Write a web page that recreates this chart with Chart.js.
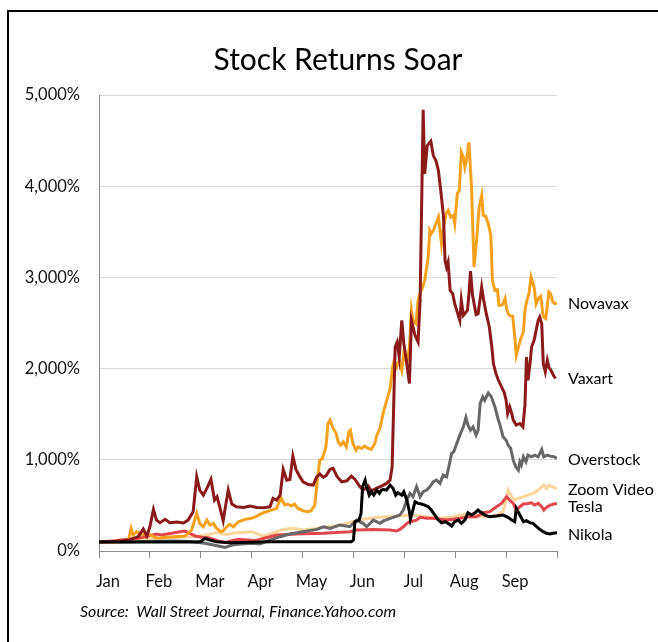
<!DOCTYPE html>
<html>
<head>
<meta charset="utf-8">
<script src="https://cdn.jsdelivr.net/npm/chart.js@4/dist/chart.umd.min.js"></script>
<style>
  html, body { margin: 0; padding: 0; background: #fff; overflow: hidden; }
  #frame { position: absolute; left: 7px; top: 10px; width: 800px; height: 800px; border: 2px solid #000; }
  #chart { position: absolute; left: 0; top: 0; }
</style>
</head>
<body>
<div id="frame"></div>
<canvas id="chart" width="658" height="642"></canvas>
<script>
// Stock returns, Jan-Sep (x = months since Jan 1, y = % of starting price)
const monthLabels = ['Jan', 'Feb', 'Mar', 'Apr', 'May', 'Jun', 'Jul', 'Aug', 'Sep'];
const yTicks = [0, 1000, 2000, 3000, 4000, 5000];

const novavax = [[0,100],[0.3,100],[0.58,120],[0.63,248],[0.67,175],[0.74,212],[0.84,175],[0.97,186],[1.07,157],[1.17,139],[1.30,150],[1.49,157],[1.69,164],[1.82,230],[1.92,413],[1.98,303],[2.05,266],[2.12,339],[2.18,285],[2.25,303],[2.31,248],[2.40,212],[2.44,223],[2.51,266],[2.57,292],[2.64,266],[2.74,321],[2.87,347],[3.00,358],[3.10,383],[3.23,420],[3.36,442],[3.49,467],[3.54,540],[3.58,577],[3.65,504],[3.71,515],[3.78,493],[3.84,515],[3.91,467],[4.01,442],[4.11,431],[4.17,442],[4.24,504],[4.29,777],[4.34,996],[4.39,1015],[4.46,1142],[4.50,1398],[4.54,1434],[4.59,1361],[4.66,1289],[4.70,1197],[4.75,1161],[4.80,1197],[4.86,1142],[4.91,1306],[4.94,1325],[4.99,1179],[5.05,1106],[5.09,1142],[5.16,1125],[5.22,1150],[5.29,1125],[5.35,1113],[5.42,1179],[5.46,1270],[5.52,1343],[5.59,1525],[5.65,1640],[5.72,1780],[5.77,2018],[5.80,2091],[5.85,2018],[5.90,2091],[5.95,1982],[5.99,2165],[6.05,2055],[6.10,2237],[6.14,2639],[6.17,2529],[6.23,2493],[6.27,2748],[6.31,2822],[6.36,2894],[6.40,2967],[6.47,3223],[6.50,3515],[6.53,3479],[6.57,3515],[6.62,3588],[6.67,3661],[6.70,3515],[6.73,3369],[6.77,3551],[6.82,3698],[6.86,3734],[6.91,3661],[6.96,3679],[6.99,3588],[7.04,3917],[7.08,3953],[7.12,4373],[7.16,4318],[7.19,4208],[7.22,4281],[7.27,4482],[7.32,3990],[7.37,3113],[7.42,3405],[7.47,3770],[7.52,3898],[7.55,3679],[7.60,3668],[7.65,3588],[7.70,3460],[7.73,2967],[7.78,2858],[7.83,2865],[7.86,2694],[7.91,2694],[7.94,2712],[7.98,2767],[8.01,2657],[8.04,2603],[8.07,2581],[8.13,2574],[8.17,2347],[8.20,2146],[8.26,2274],[8.30,2347],[8.34,2402],[8.37,2639],[8.41,2748],[8.45,2822],[8.49,3004],[8.55,2894],[8.59,2712],[8.63,2767],[8.68,2792],[8.73,2566],[8.78,2548],[8.84,2840],[8.87,2822],[8.92,2730],[8.96,2712],[9.00,2719]];

const vaxart = [[0,100],[0.3,105],[0.58,120],[0.77,157],[0.87,241],[0.94,164],[1.0,266],[1.07,456],[1.13,339],[1.2,310],[1.30,347],[1.39,310],[1.53,318],[1.66,307],[1.75,339],[1.85,431],[1.92,814],[1.98,668],[2.05,613],[2.12,686],[2.2,785],[2.27,558],[2.32,595],[2.38,467],[2.44,332],[2.49,504],[2.54,668],[2.61,515],[2.70,485],[2.84,478],[2.97,493],[3.10,478],[3.23,475],[3.36,485],[3.42,577],[3.49,558],[3.56,613],[3.62,895],[3.69,777],[3.75,785],[3.81,1040],[3.87,895],[3.94,821],[4.01,759],[4.11,730],[4.21,723],[4.28,814],[4.34,843],[4.41,807],[4.47,832],[4.54,895],[4.60,906],[4.68,814],[4.77,759],[4.87,770],[4.96,821],[5.03,785],[5.13,704],[5.19,668],[5.29,712],[5.35,660],[5.46,690],[5.55,712],[5.65,741],[5.72,777],[5.76,923],[5.82,2237],[5.86,2292],[5.90,2128],[5.95,2529],[5.99,2274],[6.03,2128],[6.10,1836],[6.14,2529],[6.21,2365],[6.27,2292],[6.31,2748],[6.37,4837],[6.40,4136],[6.45,4446],[6.52,4493],[6.57,4336],[6.62,4281],[6.67,4172],[6.70,4026],[6.73,3880],[6.77,3661],[6.80,3186],[6.83,3113],[6.86,3168],[6.90,2858],[6.95,2822],[6.99,2712],[7.03,2639],[7.09,2529],[7.12,2748],[7.16,2584],[7.24,2639],[7.27,2822],[7.30,3069],[7.34,2803],[7.41,2592],[7.45,2602],[7.49,2767],[7.52,2894],[7.56,2748],[7.61,2602],[7.67,2456],[7.72,2237],[7.75,2055],[7.80,1946],[7.85,1872],[7.91,1799],[7.96,1744],[8.00,1653],[8.03,1508],[8.07,1580],[8.11,1508],[8.14,1435],[8.20,1380],[8.27,1398],[8.33,1361],[8.37,1599],[8.40,2128],[8.43,1872],[8.47,2055],[8.50,2237],[8.55,2310],[8.59,2420],[8.63,2529],[8.66,2566],[8.70,2493],[8.73,2055],[8.77,1964],[8.81,2091],[8.84,2018],[8.88,1982],[8.93,1927],[8.97,1891]];

const overstock = [[0,100],[0.5,100],[1.0,105],[1.5,110],[1.8,105],[2.08,84],[2.25,66],[2.48,40],[2.61,66],[2.80,76],[3.0,84],[3.16,77],[3.36,120],[3.56,157],[3.75,186],[4.01,212],[4.28,237],[4.41,266],[4.54,248],[4.73,285],[4.93,266],[5.06,339],[5.19,303],[5.26,266],[5.39,339],[5.52,303],[5.59,330],[5.78,369],[5.91,394],[5.98,449],[6.05,558],[6.11,632],[6.17,595],[6.24,704],[6.31,595],[6.37,650],[6.44,668],[6.50,704],[6.57,759],[6.63,777],[6.70,741],[6.76,832],[6.83,814],[6.86,887],[6.93,1070],[6.97,1088],[7.03,1179],[7.09,1270],[7.16,1361],[7.21,1464],[7.25,1380],[7.30,1325],[7.35,1361],[7.41,1270],[7.45,1325],[7.49,1617],[7.54,1690],[7.58,1653],[7.65,1733],[7.71,1690],[7.78,1580],[7.84,1453],[7.89,1361],[7.94,1252],[8.00,1215],[8.04,1161],[8.09,1125],[8.14,996],[8.19,923],[8.24,887],[8.27,978],[8.30,942],[8.34,1033],[8.39,978],[8.43,1051],[8.50,1033],[8.56,1051],[8.63,1033],[8.70,1113],[8.74,1033],[8.81,1051],[8.87,1040],[8.94,1033],[9.0,1015]];

const zoomVideo = [[0,100],[0.5,105],[1.0,130],[1.5,150],[1.9,160],[2.1,175],[2.3,200],[2.5,180],[2.7,200],[3.0,212],[3.23,164],[3.36,186],[3.49,212],[3.62,237],[3.82,248],[4.01,230],[4.28,248],[4.47,266],[4.66,274],[4.86,303],[4.99,321],[5.13,339],[5.32,358],[5.52,369],[5.72,376],[5.91,383],[6.11,394],[6.31,383],[6.50,369],[6.70,358],[6.90,369],[7.09,394],[7.29,400],[7.49,380],[7.68,376],[7.81,394],[7.94,431],[8.00,558],[8.04,668],[8.11,595],[8.17,558],[8.24,577],[8.34,595],[8.43,613],[8.53,632],[8.63,668],[8.70,704],[8.74,723],[8.79,686],[8.84,723],[8.91,704],[9.0,686]];

const tesla = [[0,100],[0.31,113],[0.58,128],[0.77,139],[0.97,164],[1.13,186],[1.23,175],[1.43,194],[1.56,208],[1.69,219],[1.79,194],[1.89,164],[2.02,150],[2.15,146],[2.25,128],[2.34,110],[2.48,91],[2.61,113],[2.74,128],[2.93,120],[3.06,113],[3.49,175],[3.88,186],[4.41,194],[4.93,212],[5.06,230],[5.39,237],[5.72,230],[5.85,219],[5.91,237],[5.98,266],[6.05,303],[6.11,321],[6.24,339],[6.31,369],[6.44,358],[6.57,358],[6.70,347],[6.83,339],[6.96,349],[7.09,358],[7.29,376],[7.42,376],[7.55,420],[7.68,431],[7.81,485],[7.91,522],[8.01,595],[8.07,558],[8.14,522],[8.20,449],[8.27,485],[8.34,515],[8.43,522],[8.50,529],[8.56,504],[8.63,522],[8.70,485],[8.74,449],[8.81,485],[8.87,504],[8.94,515],[9.0,522]];

const nikola = [[0,100],[1.9,100],[2.0,105],[2.08,139],[2.18,120],[2.31,102],[2.57,91],[3.0,95],[3.36,102],[4.96,102],[5.0,120],[5.03,321],[5.11,339],[5.15,413],[5.18,704],[5.23,777],[5.26,704],[5.31,613],[5.35,650],[5.40,613],[5.46,668],[5.51,632],[5.55,668],[5.59,675],[5.65,668],[5.72,723],[5.78,686],[5.83,613],[5.87,639],[5.95,613],[5.99,650],[6.05,558],[6.10,431],[6.12,350],[6.16,431],[6.21,540],[6.27,522],[6.34,515],[6.40,504],[6.47,485],[6.53,449],[6.60,394],[6.67,339],[6.73,310],[6.80,321],[6.86,303],[6.93,274],[6.99,321],[7.06,339],[7.12,303],[7.19,339],[7.25,420],[7.32,394],[7.39,420],[7.45,449],[7.49,430],[7.58,394],[7.68,376],[7.81,383],[7.94,394],[8.04,369],[8.11,339],[8.17,321],[8.20,467],[8.27,394],[8.34,321],[8.40,332],[8.47,310],[8.53,303],[8.60,266],[8.66,237],[8.73,212],[8.79,194],[8.86,186],[8.92,194],[9.0,201]];

const FONT = 'Lato, "Open Sans", sans-serif';

// first dataset is drawn on top
const series = [
  { name: 'Nikola', data: nikola, color: '#000000', labelShift: 2 },
  { name: 'Vaxart', data: vaxart, color: '#8b1a1a', labelShift: 0 },
  { name: 'Novavax', data: novavax, color: '#f5a11c', labelShift: 1 },
  { name: 'Overstock', data: overstock, color: '#676767', labelShift: 1 },
  { name: 'Tesla', data: tesla, color: '#e0474c', labelShift: 3 },
  { name: 'Zoom Video', data: zoomVideo, color: '#fbd59b', labelShift: 1 }
];

const toPoints = (arr) => arr.map(p => ({ x: p[0], y: p[1] }));

// Title, source note and the end-of-line series names
const textPlugin = {
  id: 'textPlugin',
  afterDraw(chart) {
    const ctx = chart.ctx;
    const yScale = chart.scales.y;
    ctx.save();
    ctx.fillStyle = '#000';
    ctx.textBaseline = 'middle';

    ctx.font = '30px ' + FONT;
    ctx.textAlign = 'center';
    ctx.fillText('Stock Returns Soar', 338, 60);

    ctx.font = 'italic 16px ' + FONT;
    ctx.textAlign = 'left';
    ctx.fillText('Source:  Wall Street Journal, Finance.Yahoo.com', 80, 612);

    ctx.font = '16px ' + FONT;
    series.forEach(s => {
      const last = s.data[s.data.length - 1][1];
      const y = yScale.getPixelForValue(last) + s.labelShift;
      ctx.fillText(s.name, 568, y);
    });
    ctx.restore();
  }
};

new Chart(document.getElementById('chart'), {
  type: 'line',
  data: {
    datasets: series.map(s => ({
      label: s.name,
      data: toPoints(s.data),
      borderColor: s.color,
      borderWidth: 3,
      pointRadius: 0,
      tension: 0,
      fill: false
    }))
  },
  options: {
    responsive: false,
    animation: false,
    devicePixelRatio: 1,
    layout: { autoPadding: false, padding: { left: 0, right: 101, top: 95, bottom: 51 } },
    plugins: {
      legend: { display: false },
      title: { display: false },
      tooltip: { enabled: false }
    },
    scales: {
      x: {
        type: 'linear',
        min: 0,
        max: 9,
        grid: { drawOnChartArea: false, drawTicks: true, tickLength: 7, color: '#8c8c8c' },
        border: { color: '#8c8c8c', width: 1 },
        ticks: {
          stepSize: 1,
          autoSkip: false,
          maxRotation: 0,
          labelOffset: 9,
          padding: 14,
          color: '#111',
          font: { family: FONT, size: 16.5 },
          callback: (v) => monthLabels[v] || ''
        },
        afterFit: (scale) => { scale.height = 40; }
      },
      y: {
        min: yTicks[0],
        max: yTicks[yTicks.length - 1],
        afterBuildTicks: (scale) => { scale.ticks = yTicks.map(v => ({ value: v })); },
        grid: { color: '#d9d9d9', drawTicks: false },
        border: { color: '#8c8c8c', width: 1 },
        ticks: {
          padding: 19,
          color: '#111',
          font: { family: FONT, size: 16.5 },
          callback: (v) => v.toLocaleString('en-US') + '%'
        },
        afterFit: (scale) => { scale.width = 99; }
      }
    }
  },
  plugins: [textPlugin]
});
</script>
</body>
</html>
